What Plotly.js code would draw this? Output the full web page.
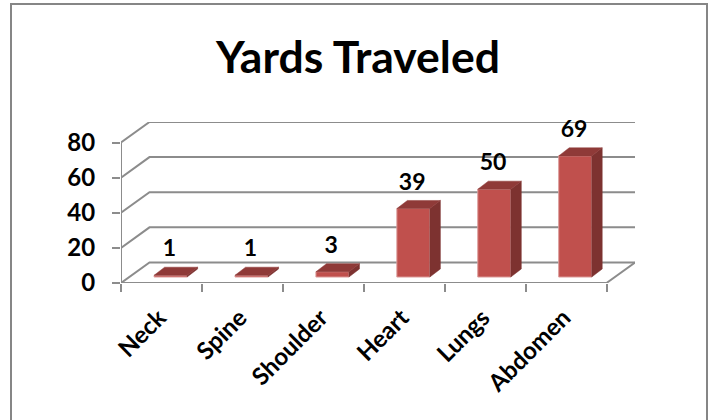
<!DOCTYPE html>
<html>
<head>
<meta charset="utf-8">
<script src="https://cdn.plot.ly/plotly-3.0.1.min.js"></script>
<style>
html,body{margin:0;padding:0;background:#fff;overflow:hidden;width:709px;height:420px}
#frame{position:absolute;left:10px;top:3px;width:698px;height:500px;box-sizing:border-box;border:2px solid #868686;pointer-events:none}
#chart{position:absolute;left:0;top:0;width:709px;height:420px}
</style>
</head>
<body>
<div id="chart"></div>
<div id="frame"></div>
<script>
const categories = ["Neck","Spine","Shoulder","Heart","Lungs","Abdomen"];
const yards = [1,1,3,39,50,69];
const yTicks = [0,20,40,60,80];

// oblique projection of the 3D look, in axis units
const wallDx = 0.352, wallDy = 11.7;
const barShift = 0.113, barBase = 3.4, barWidth = 0.408, barDx = 0.13, barDy = 4.6, labelGap = 14;
const xMin = -0.5, xEnd = categories.length - 0.5, xMax = xEnd + wallDx, yMax = 80 + wallDy;
const GRID = "#8c8c8c", FONT = "Lato, Carlito, sans-serif";
const idx = categories.map((_, i) => i);
const boundaries = categories.map((_, i) => i - 0.5).concat([xEnd]);

const lineStyle = {color: GRID, width: 2};
const gridX = [], gridY = [];
yTicks.forEach(t => {
  gridX.push(xMin, xMin + wallDx, xMax, null);
  gridY.push(t, t + wallDy, t + wallDy, null);
});
const traces = [
  {type:"scatter", mode:"lines", x:gridX, y:gridY, line:lineStyle, cliponaxis:false, hoverinfo:"skip"},
  {type:"scatter", mode:"lines", x:[xMin,xMin,null,xMin,xEnd,xMax], y:[80,0,null,0,0,wallDy], line:lineStyle, cliponaxis:false, hoverinfo:"skip"},
];

const topX = [], topY = [], sideX = [], sideY = [];
yards.forEach((v, i) => {
  const l = i + barShift - barWidth/2, r = l + barWidth, h = barBase + v;
  topX.push(l, l + barDx, r + barDx, r, l, null);
  topY.push(h, h + barDy, h + barDy, h, h, null);
  sideX.push(r, r + barDx, r + barDx, r, r, null);
  sideY.push(barBase, barBase + barDy, h + barDy, h, barBase, null);
});
traces.push(
  {type:"bar", xaxis:"x2", x:idx.map(i => i + barShift), y:yards, base:barBase, width:barWidth,
   marker:{color:"#C0504D", line:{color:"#dc9c9a", width:1}}, hoverinfo:"skip"},
  {type:"scatter", xaxis:"x2", mode:"lines", x:sideX, y:sideY, fill:"toself", fillcolor:"#7D3230", line:{color:"#7D3230", width:0.5}, hoverinfo:"skip"},
  {type:"scatter", xaxis:"x2", mode:"lines", x:topX, y:topY, fill:"toself", fillcolor:"#8F3A38", line:{color:"#8F3A38", width:0.5}, hoverinfo:"skip"},
  {type:"scatter", xaxis:"x2", mode:"text", x:idx.map(i => i + barShift - 0.015), y:yards.map(v => barBase + v + labelGap),
   text:yards.map(String), textposition:"middle center", textfont:{family:FONT, size:23, color:"#000", weight:700}, cliponaxis:false, hoverinfo:"skip"}
);

const layout = {
  width:709, height:420, showlegend:false, paper_bgcolor:"rgba(0,0,0,0)", plot_bgcolor:"rgba(0,0,0,0)",
  margin:{l:121, r:74, t:122.3, b:137.3, pad:0},
  title:{text:"Yards Traveled", font:{family:FONT, size:44.5, color:"#000", weight:700},
         x:358/709, xref:"container", xanchor:"center", y:1-57/420, yref:"container", yanchor:"middle"},
  xaxis:{range:[xMin,xMax], tickmode:"array", tickvals:idx.map(i => i - 0.03), ticktext:categories, tickangle:-45, ticks:"", ticklabelstandoff:15,
         tickfont:{family:FONT, size:24, color:"#000", weight:700}, showgrid:false, zeroline:false, showline:false},
  xaxis2:{range:[xMin,xMax], overlaying:"x", anchor:"y", side:"bottom", tickmode:"array", tickvals:boundaries, showticklabels:false,
         ticks:"outside", ticklen:8, tickwidth:2, tickcolor:GRID, showgrid:false, zeroline:false, showline:false},
  yaxis:{range:[0,yMax], tickmode:"array", tickvals:yTicks, ticks:"outside", ticklen:8, tickwidth:2, tickcolor:GRID, ticklabelstandoff:12,
         tickfont:{family:FONT, size:24, color:"#000", weight:700}, showgrid:false, zeroline:false, showline:false}
};
Plotly.newPlot("chart", traces, layout, {displayModeBar:false, staticPlot:true});
</script>
</body>
</html>
